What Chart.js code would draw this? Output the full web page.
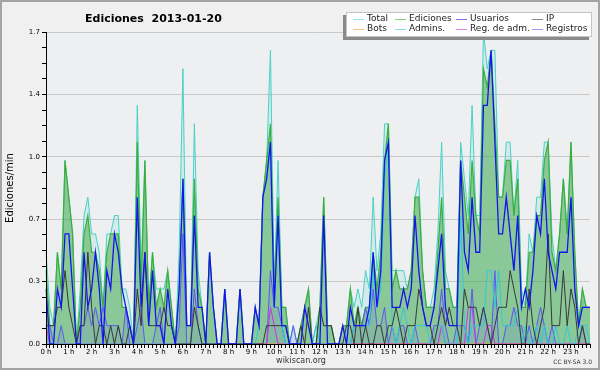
<!DOCTYPE html>
<html>
<head>
<meta charset="utf-8">
<script src="https://cdn.jsdelivr.net/npm/chart.js@4.4.1/dist/chart.umd.min.js"></script>
<style>
  html, body { margin: 0; padding: 0; background: #f0f0f0; }
  #wrap { width: 600px; height: 370px; }
</style>
</head>
<body>
<div id="wrap"><canvas id="chart" width="600" height="370"></canvas></div>
<script>
// edits per minute, one value every 10 minutes (6 per hour)
const hourLabels = ['0 h', '1 h', '2 h', '3 h', '4 h', '5 h', '6 h', '7 h', '8 h', '9 h', '10 h', '11 h',
    '12 h', '13 h', '14 h', '15 h', '16 h', '17 h', '18 h', '19 h', '20 h', '21 h', '22 h', '23 h'];

const total = [
    0.5, 0.2, 0.1, 0.5, 0.3, 1.0, 0.8, 0.6, 0.0, 0.3, 0.7, 0.8,
    0.6, 0.6, 0.5, 0.2, 0.6, 0.6, 0.7, 0.7, 0.3, 0.3, 0.2, 0.0,
    1.3, 0.4, 1.0, 0.2, 0.5, 0.3, 0.3, 0.3, 0.4, 0.2, 0.0, 0.5,
    1.5, 0.1, 0.1, 1.2, 0.4, 0.2, 0.0, 0.5, 0.2, 0.0, 0.0, 0.3,
    0.0, 0.0, 0.0, 0.3, 0.0, 0.0, 0.0, 0.2, 0.1, 0.8, 1.0, 1.6,
    0.3, 1.0, 0.2, 0.2, 0.0, 0.1, 0.0, 0.1, 0.2, 0.3, 0.0, 0.1,
    0.2, 0.8, 0.1, 0.1, 0.0, 0.0, 0.1, 0.1, 0.3, 0.2, 0.3, 0.2,
    0.4, 0.3, 0.8, 0.4, 0.6, 1.2, 1.2, 0.4, 0.4, 0.4, 0.4, 0.3,
    0.4, 0.8, 0.9, 0.4, 0.2, 0.2, 0.3, 0.6, 1.1, 0.4, 0.3, 0.2,
    0.2, 1.1, 0.9, 0.7, 1.3, 0.7, 0.7, 1.7, 1.5, 1.6, 1.6, 0.8,
    0.8, 1.1, 1.1, 0.7, 1.0, 0.3, 0.2, 0.6, 0.5, 0.8, 0.8, 1.1,
    1.1, 0.6, 0.4, 0.6, 0.9, 0.6, 1.1, 0.5, 0.1, 0.3, 0.2, 0.2
];
const ediciones = [
    0.4, 0.1, 0.1, 0.5, 0.3, 1.0, 0.8, 0.6, 0.0, 0.2, 0.6, 0.7,
    0.5, 0.5, 0.4, 0.2, 0.5, 0.6, 0.6, 0.6, 0.2, 0.2, 0.1, 0.0,
    1.1, 0.3, 1.0, 0.2, 0.5, 0.2, 0.3, 0.2, 0.4, 0.2, 0.0, 0.3,
    0.9, 0.1, 0.1, 0.9, 0.3, 0.2, 0.0, 0.5, 0.2, 0.0, 0.0, 0.3,
    0.0, 0.0, 0.0, 0.3, 0.0, 0.0, 0.0, 0.2, 0.1, 0.8, 1.0, 1.2,
    0.3, 0.8, 0.2, 0.2, 0.0, 0.0, 0.0, 0.1, 0.2, 0.3, 0.0, 0.0,
    0.2, 0.8, 0.1, 0.1, 0.0, 0.0, 0.1, 0.1, 0.3, 0.1, 0.2, 0.1,
    0.2, 0.2, 0.5, 0.3, 0.5, 1.0, 1.2, 0.3, 0.4, 0.3, 0.3, 0.3,
    0.4, 0.8, 0.8, 0.4, 0.2, 0.2, 0.2, 0.5, 0.8, 0.3, 0.3, 0.2,
    0.2, 1.0, 0.8, 0.6, 1.0, 0.7, 0.6, 1.5, 1.4, 1.6, 1.2, 0.8,
    0.8, 1.0, 1.0, 0.7, 0.9, 0.2, 0.2, 0.5, 0.5, 0.7, 0.7, 1.0,
    1.1, 0.5, 0.4, 0.6, 0.9, 0.6, 1.1, 0.5, 0.1, 0.3, 0.2, 0.2
];
const usuarios = [
    0.3, 0.0, 0.0, 0.3, 0.2, 0.6, 0.6, 0.3, 0.0, 0.0, 0.5, 0.2,
    0.3, 0.5, 0.3, 0.0, 0.4, 0.3, 0.6, 0.5, 0.3, 0.2, 0.1, 0.0,
    0.8, 0.2, 0.5, 0.1, 0.4, 0.1, 0.1, 0.0, 0.3, 0.1, 0.0, 0.3,
    0.9, 0.1, 0.1, 0.7, 0.2, 0.2, 0.0, 0.5, 0.2, 0.0, 0.0, 0.3,
    0.0, 0.0, 0.0, 0.3, 0.0, 0.0, 0.0, 0.2, 0.1, 0.8, 0.9, 1.1,
    0.2, 0.7, 0.1, 0.1, 0.0, 0.0, 0.0, 0.0, 0.2, 0.1, 0.0, 0.0,
    0.0, 0.7, 0.0, 0.0, 0.0, 0.0, 0.1, 0.0, 0.2, 0.1, 0.1, 0.1,
    0.1, 0.2, 0.5, 0.2, 0.4, 1.0, 1.1, 0.2, 0.2, 0.2, 0.3, 0.2,
    0.3, 0.7, 0.4, 0.2, 0.1, 0.1, 0.2, 0.4, 0.6, 0.2, 0.1, 0.1,
    0.1, 1.0, 0.5, 0.4, 0.8, 0.5, 0.5, 1.3, 1.3, 1.6, 1.1, 0.6,
    0.6, 0.8, 0.6, 0.4, 0.7, 0.2, 0.3, 0.2, 0.4, 0.7, 0.6, 0.9,
    0.5, 0.4, 0.3, 0.5, 0.5, 0.5, 0.8, 0.3, 0.1, 0.2, 0.2, 0.2
];
const ip = [
    0.1, 0.1, 0.1, 0.2, 0.2, 0.4, 0.2, 0.1, 0.0, 0.1, 0.1, 0.5,
    0.2, 0.0, 0.1, 0.1, 0.0, 0.1, 0.0, 0.1, 0.0, 0.0, 0.1, 0.0,
    0.3, 0.1, 0.5, 0.1, 0.1, 0.1, 0.1, 0.2, 0.1, 0.1, 0.0, 0.0,
    0.0, 0.0, 0.0, 0.2, 0.1, 0.0, 0.0, 0.0, 0.0, 0.0, 0.0, 0.0,
    0.0, 0.0, 0.0, 0.0, 0.0, 0.0, 0.0, 0.0, 0.0, 0.0, 0.1, 0.1,
    0.1, 0.1, 0.1, 0.1, 0.0, 0.0, 0.0, 0.1, 0.0, 0.2, 0.0, 0.0,
    0.2, 0.1, 0.1, 0.1, 0.0, 0.0, 0.0, 0.1, 0.1, 0.0, 0.2, 0.0,
    0.1, 0.0, 0.0, 0.1, 0.1, 0.0, 0.1, 0.1, 0.2, 0.1, 0.0, 0.1,
    0.1, 0.1, 0.3, 0.2, 0.1, 0.1, 0.0, 0.1, 0.2, 0.1, 0.2, 0.1,
    0.1, 0.0, 0.3, 0.2, 0.2, 0.2, 0.1, 0.2, 0.1, 0.0, 0.1, 0.2,
    0.2, 0.2, 0.4, 0.3, 0.2, 0.0, 0.0, 0.3, 0.1, 0.0, 0.1, 0.2,
    0.6, 0.1, 0.1, 0.1, 0.4, 0.1, 0.3, 0.2, 0.0, 0.1, 0.0, 0.0
];
const bots = [
    0, 0, 0, 0, 0, 0, 0, 0, 0, 0, 0, 0,
    0, 0, 0, 0, 0, 0, 0, 0, 0, 0, 0, 0,
    0, 0, 0, 0, 0, 0, 0, 0, 0, 0, 0, 0,
    0, 0, 0, 0, 0, 0, 0, 0, 0, 0, 0, 0,
    0, 0, 0, 0, 0, 0, 0, 0, 0, 0, 0, 0,
    0, 0, 0, 0, 0, 0, 0, 0, 0, 0, 0, 0,
    0, 0, 0, 0, 0, 0, 0, 0, 0, 0, 0, 0,
    0, 0, 0, 0, 0, 0, 0, 0, 0, 0, 0, 0,
    0, 0, 0, 0, 0, 0, 0, 0, 0, 0, 0, 0,
    0, 0, 0, 0, 0, 0, 0, 0, 0, 0, 0, 0,
    0, 0, 0, 0, 0, 0, 0, 0, 0, 0, 0, 0,
    0, 0, 0, 0, 0, 0, 0, 0, 0, 0, 0, 0
];
const admins = [
    0, 0, 0, 0, 0, 0, 0, 0, 0, 0, 0, 0,
    0, 0, 0, 0, 0, 0, 0, 0, 0, 0, 0, 0,
    0, 0, 0, 0, 0, 0, 0, 0, 0, 0, 0, 0,
    0, 0, 0, 0, 0, 0, 0, 0, 0, 0, 0, 0,
    0, 0, 0, 0, 0, 0, 0, 0, 0.1, 0.8, 0.9, 1.1,
    0.2, 0.7, 0.1, 0, 0, 0, 0, 0, 0, 0, 0, 0.1,
    0, 0, 0, 0, 0, 0, 0, 0, 0, 0.1, 0.1, 0.1,
    0.1, 0.1, 0.4, 0.2, 0.3, 0.9, 1.1, 0.1, 0.0, 0.1, 0.2, 0.1,
    0.0, 0.1, 0.1, 0.1, 0.1, 0.0, 0.0, 0.1, 0.1, 0.0, 0.0, 0.0,
    0.0, 0.7, 0.1, 0.0, 0.1, 0.1, 0.1, 0.1, 0.4, 0.4, 0.2, 0.4,
    0.1, 0.1, 0.1, 0.1, 0.2, 0.0, 0.1, 0.0, 0.0, 0.1, 0.0, 0.1,
    0.0, 0.0, 0.1, 0.0, 0.0, 0.1, 0.0, 0.0, 0.1, 0.1, 0.1, 0.0
];
const regAdm = [
    0.1, 0, 0, 0, 0, 0, 0, 0, 0, 0, 0, 0,
    0, 0, 0, 0, 0, 0, 0, 0, 0, 0, 0, 0,
    0, 0, 0, 0, 0, 0, 0, 0, 0, 0, 0, 0,
    0, 0, 0, 0, 0, 0, 0, 0, 0, 0, 0, 0,
    0, 0, 0, 0, 0, 0, 0, 0, 0, 0, 0, 0.2,
    0.1, 0, 0, 0, 0, 0, 0, 0, 0, 0, 0, 0,
    0, 0, 0, 0, 0, 0, 0, 0, 0, 0, 0, 0,
    0, 0, 0, 0, 0, 0, 0, 0, 0, 0, 0, 0,
    0, 0, 0, 0, 0, 0, 0, 0, 0.1, 0, 0, 0,
    0, 0, 0, 0.2, 0.2, 0, 0, 0, 0.1, 0.1, 0, 0,
    0, 0, 0, 0, 0, 0, 0, 0, 0, 0, 0, 0,
    0, 0, 0, 0, 0, 0, 0, 0, 0, 0, 0, 0
];
const registros = [
    0.1, 0.1, 0.0, 0.0, 0.1, 0.0, 0.0, 0.0, 0.0, 0.1, 0.1, 0.2,
    0.1, 0.2, 0.1, 0.2, 0.1, 0.1, 0.1, 0.1, 0.0, 0.2, 0.0, 0.0,
    0.1, 0.2, 0.0, 0.0, 0.0, 0.1, 0.2, 0.0, 0.0, 0.0, 0.0, 0.1,
    0.6, 0.0, 0.0, 0.3, 0.1, 0.0, 0.0, 0.0, 0.0, 0.0, 0.0, 0.0,
    0.0, 0.0, 0.0, 0.0, 0.0, 0.0, 0.0, 0.0, 0.0, 0.0, 0.0, 0.4,
    0.2, 0.2, 0.1, 0.0, 0.0, 0.1, 0.0, 0.0, 0.0, 0.0, 0.0, 0.0,
    0.0, 0.0, 0.0, 0.0, 0.0, 0.0, 0.0, 0.0, 0.0, 0.1, 0.1, 0.1,
    0.2, 0.1, 0.3, 0.1, 0.1, 0.2, 0.0, 0.1, 0.0, 0.1, 0.1, 0.0,
    0.0, 0.1, 0.0, 0.0, 0.0, 0.0, 0.1, 0.1, 0.3, 0.1, 0.0, 0.0,
    0.1, 0.1, 0.1, 0.0, 0.3, 0.0, 0.1, 0.2, 0.1, 0.0, 0.4, 0.0,
    0.0, 0.1, 0.1, 0.2, 0.1, 0.1, 0.0, 0.1, 0.0, 0.1, 0.2, 0.1,
    0.0, 0.1, 0.0, 0.0, 0.0, 0.0, 0.0, 0.0, 0.0, 0.1, 0.0, 0.0
];

// one slot per 10 minutes, only the full hour gets a label
const slots = [];
hourLabels.forEach(h => {
    slots.push(h);
    for (let k = 0; k < 5; k++) slots.push('');
});

const FONT = '"DejaVu Sans", sans-serif';

function line(label, data, color, order, width, fillColor) {
    return {
        label: label,
        data: data,
        borderColor: color,
        backgroundColor: fillColor || color,
        borderWidth: width,
        fill: fillColor ? 'origin' : false,
        order: order,
    };
}

const data = {
    labels: slots,
    datasets: [
        line('Total', total, '#48d2c6', 8, 1, 'rgba(72,209,204,0.15)'),
        line('Ediciones', ediciones, '#3cae3c', 7, 1.2, 'rgba(50,160,50,0.45)'),
        line('Usuarios', usuarios, '#1414f0', 1, 1.3),
        line('IP', ip, '#383838', 2, 1),
        line('Bots', bots, '#f0a030', 5, 1),
        line('Admins.', admins, '#30c8dc', 3, 1),
        line('Reg. de adm.', regAdm, '#d030e0', 4, 1),
        line('Registros', registros, '#5a5af0', 6, 1, 'rgba(80,80,255,0.12)'),
    ],
};

// frame, plot background, title, legend box and footer
const decor = {
    id: 'decor',
    beforeDraw(chart) {
        const {ctx, chartArea: a, width, height} = chart;
        ctx.save();
        ctx.fillStyle = '#f0f0f0';
        ctx.fillRect(0, 0, width, height);
        ctx.strokeStyle = '#a4a4a4';
        ctx.lineWidth = 2;
        ctx.strokeRect(1, 1, width - 2, height - 2);
        ctx.fillStyle = '#edeff1';
        ctx.fillRect(a.left, a.top, a.right - a.left, a.bottom - a.top);
        ctx.restore();
    },
    afterDraw(chart) {
        const {ctx} = chart;
        ctx.save();
        ctx.fillStyle = '#000';
        ctx.font = 'bold 11px ' + FONT;
        ctx.textBaseline = 'alphabetic';
        ctx.fillText('Ediciones  2013-01-20', 85, 21.5);

        // legend: shadow, box, then 4 columns x 2 rows
        ctx.fillStyle = '#8a8a8a';
        ctx.fillRect(343, 15, 246, 25);
        ctx.fillStyle = '#ffffff';
        ctx.fillRect(346, 12, 246, 25);
        ctx.strokeStyle = '#c4c4c4';
        ctx.lineWidth = 1;
        ctx.strokeRect(346.5, 12.5, 245, 24);

        const cols = [367, 409, 470, 546];
        const rows = [19, 28.5];
        ctx.font = '9px ' + FONT;
        ctx.textBaseline = 'middle';
        chart.data.datasets.forEach((ds, k) => {
            const x = cols[k % 4];
            const y = rows[Math.floor(k / 4)];
            ctx.strokeStyle = ds.borderColor;
            ctx.lineWidth = 1;
            ctx.globalAlpha = 0.6;
            ctx.beginPath();
            ctx.moveTo(x - 14, Math.round(y) + 0.5);
            ctx.lineTo(x - 3, Math.round(y) + 0.5);
            ctx.stroke();
            ctx.globalAlpha = 1;
            ctx.fillStyle = '#222';
            ctx.fillText(ds.label, x, y);
        });

        ctx.fillStyle = '#333';
        ctx.textAlign = 'center';
        ctx.font = '8px ' + FONT;
        ctx.fillText('wikiscan.org', 301, 361);
        ctx.textAlign = 'right';
        ctx.font = '6px ' + FONT;
        ctx.fillText('CC BY-SA 3.0', 592, 362.5);
        ctx.restore();
    },
};

const config = {
    type: 'line',
    data: data,
    options: {
        responsive: false,
        animation: false,
        events: [],
        layout: { padding: { top: 32, right: 10, left: 0, bottom: 0 } },
        elements: {
            point: { radius: 0 },
            line: { tension: 0 },
        },
        plugins: {
            legend: { display: false },
            tooltip: { enabled: false },
            filler: { propagate: false },
        },
        scales: {
            x: {
                type: 'category',
                offset: false,
                afterFit: (s) => { s.height = 26; },
                ticks: {
                    autoSkip: false,
                    maxRotation: 0,
                    minRotation: 0,
                    padding: 0,
                    color: '#000',
                    font: { family: FONT, size: 7 },
                },
                grid: { drawOnChartArea: false, tickLength: 4, color: '#000', tickColor: '#000', z: 1 },
                border: { color: '#000', width: 1, z: 1 },
            },
            y: {
                min: 0,
                max: 1.7,
                afterFit: (s) => { s.width = 46; },
                ticks: {
                    stepSize: 0.085,
                    autoSkip: false,
                    padding: 2,
                    color: '#000',
                    font: { family: FONT, size: 7 },
                    callback: (v, i) => (i % 4 === 0 ? v.toFixed(1) : ''),
                },
                grid: {
                    color: (c) => (c.index % 4 === 0 ? '#c8c8c8' : 'rgba(0,0,0,0)'),
                    tickColor: '#000',
                    tickLength: 4,
                },
                border: { color: '#000', width: 1, z: 1 },
                title: {
                    display: true,
                    text: 'Ediciones/min',
                    color: '#000',
                    font: { family: FONT, size: 10 },
                    padding: { top: 4, bottom: 0 },
                },
            },
        },
    },
    plugins: [decor],
};

const myChart = new Chart(document.getElementById('chart'), config);
</script>
</body>
</html>
